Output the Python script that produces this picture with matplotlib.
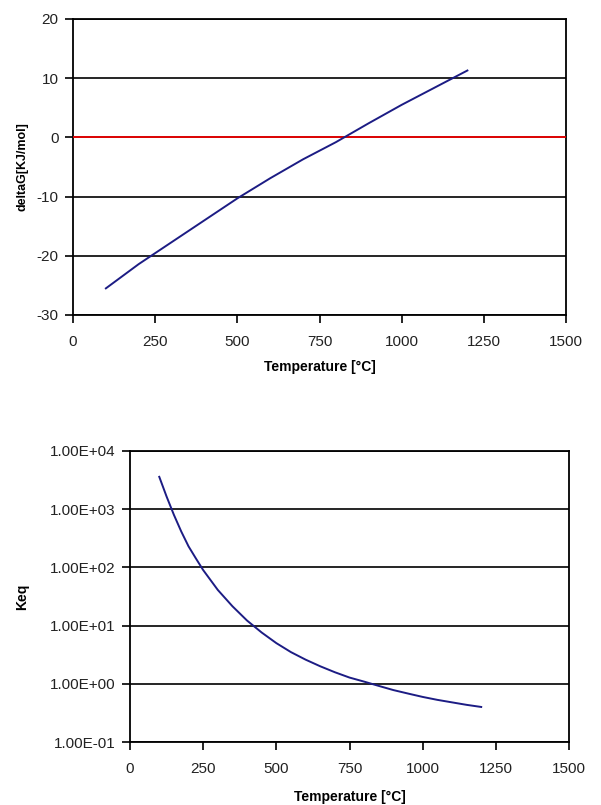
import matplotlib
matplotlib.use("Agg")
import matplotlib.pyplot as plt
from matplotlib.ticker import FuncFormatter, FixedLocator, NullLocator

plt.rcParams['font.family'] = ['Liberation Sans', 'DejaVu Sans']
plt.rcParams['axes.unicode_minus'] = False

temperature = [100, 200, 300, 400, 500, 600, 700, 800, 900, 1000, 1100, 1200]
delta_g = [-25.5, -21.4, -17.7, -14.0, -10.3, -6.9, -3.7, -0.8, 2.4, 5.5, 8.4, 11.3]

keq_temperature = [100, 125, 150, 175, 200, 225, 250, 300, 350, 400, 450, 500, 550,
                   600, 650, 700, 750, 800, 850, 900, 950, 1000, 1050, 1100, 1150, 1200]
keq = [3600, 1650, 800, 415, 230, 143, 90, 41, 21.5, 12.2, 7.6, 5.0, 3.5,
       2.6, 2.0, 1.58, 1.28, 1.09, 0.92, 0.78, 0.68, 0.595, 0.53, 0.48, 0.435, 0.40]

zero_x = [0, 1500]
zero_y = [0, 0]

x_ticks = [0, 250, 500, 750, 1000, 1250, 1500]
dg_ticks = [-30, -20, -10, 0, 10, 20]
keq_ticks = [1e-1, 1e0, 1e1, 1e2, 1e3, 1e4]

W, H = 601, 805
fig = plt.figure(figsize=(W / 100, H / 100), dpi=100)

line_color = '#1c1c84'

def style(ax):
    for s in ax.spines.values():
        s.set_color('black')
        s.set_linewidth(1.3)
    ax.tick_params(axis='both', direction='out', length=6, width=1.2,
                   labelsize=11, colors='black')
    ax.tick_params(axis='x', labelcolor='#222222', pad=8.5)
    ax.tick_params(axis='y', labelcolor='#222222', pad=4.5)
    ax.yaxis.grid(True, color='black', linewidth=1.2)
    ax.xaxis.grid(False)
    ax.set_axisbelow(True)

# Top chart
ax1 = fig.add_axes([73 / W, 1 - 315 / H, (566 - 73) / W, (315 - 19) / H])
ax1.plot(zero_x, zero_y, color='#ff0000', linewidth=1.2, zorder=3)
ax1.plot(temperature, delta_g, color=line_color, linewidth=1.4, zorder=4)
ax1.set_xlim(0, 1500)
ax1.set_ylim(-30, 20)
ax1.set_xticks(x_ticks)
ax1.set_yticks(dg_ticks)
style(ax1)
ax1.set_xlabel('Temperature [°C]', fontsize=10, fontweight='bold', labelpad=8)
ax1.set_ylabel('deltaG[KJ/mol]', fontsize=9, fontweight='bold', labelpad=6)

# Bottom chart
ax2 = fig.add_axes([130 / W, 1 - 742 / H, (569 - 130) / W, (742 - 451) / H])
ax2.plot(keq_temperature, keq, color=line_color, linewidth=1.4, zorder=4)
ax2.set_yscale('log')
ax2.set_xlim(0, 1500)
ax2.set_ylim(1e-1, 1e4)
ax2.set_xticks(x_ticks)
ax2.yaxis.set_major_locator(FixedLocator(keq_ticks))
ax2.yaxis.set_minor_locator(NullLocator())

def sci_fmt(v, pos):
    s = '%.2E' % v
    mant, exp = s.split('E')
    sign = exp[0]
    num = int(exp[1:])
    return '%sE%s%02d' % (mant, sign, num)

ax2.yaxis.set_major_formatter(FuncFormatter(sci_fmt))
style(ax2)
ax2.set_xlabel('Temperature [°C]', fontsize=10, fontweight='bold', labelpad=10)
ax2.set_ylabel('Keq', fontsize=10, fontweight='bold', labelpad=15)

fig.savefig('out.png', dpi=100)
